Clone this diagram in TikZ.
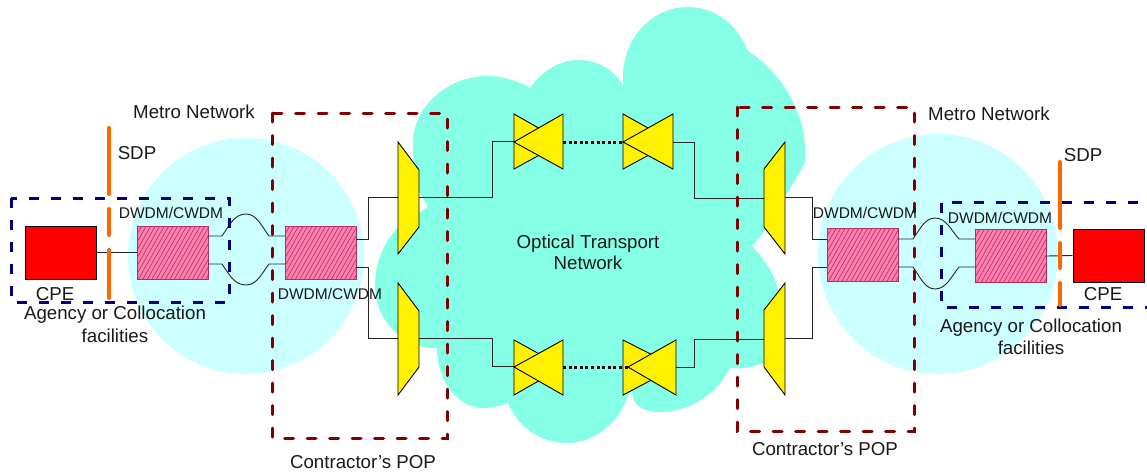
\documentclass[tikz,border=0pt]{standalone}
\usepackage{fontspec}
\setmainfont{Liberation Sans}
\definecolor{cloudc}{HTML}{85FFE5}
\definecolor{metroc}{HTML}{CCFFFF}
\definecolor{darkred}{HTML}{800000}
\definecolor{navyc}{HTML}{000080}
\definecolor{orangec}{HTML}{FF6600}
\definecolor{pinkc}{HTML}{FF80AE}
\definecolor{hatchc}{HTML}{B03060}
\tikzset{
  lab/.style={font=\fontsize{18.7}{20}\selectfont,text=black!90,inner sep=0pt,align=center},
  dwdm/.style={font=\fontsize{15.5}{17}\selectfont,text=black!90,inner sep=0pt},
  pop/.style={draw=darkred,line cap=round,dash pattern=on 9pt off 13.5pt,line width=3pt},
  site/.style={draw=navyc,dash pattern=on 10pt off 12pt,line width=3pt},
  sdp/.style={draw=orangec,line width=4pt,line cap=round},
  wire/.style={draw=black!85,line width=0.9pt},
  cpe/.style={draw=black,fill=red,line width=0.9pt,minimum width=71pt,minimum height=53pt,inner sep=0pt},
  mux/.style={draw=black,fill=yellow,line width=0.9pt,line join=miter},
  trunk/.style={draw=black,dash pattern=on 3pt off 2.6pt,line width=3pt},
  wdm/.style={draw=hatchc,fill=pinkc,line width=0.9pt,minimum width=71pt,minimum height=53pt,inner sep=0pt,
    path picture={\foreach \i in {-30,-25.5,...,75}
      \draw[hatchc,line width=0.6pt] ([xshift=\i pt]path picture bounding box.south west) -- ++(32pt,56pt);}},
}
\begin{document}
\begin{tikzpicture}[x=1pt,y=-1pt]
\useasboundingbox (0,0) rectangle (1147,472);
% metro networks
\fill[metroc] (246,256) circle[radius=118];
\fill[metroc] (938,254) circle[radius=120];
% optical transport cloud
\fill[cloudc] (428,207) -- (420,193) .. controls (414,178) and (413,160) .. (413,143)
 .. controls (413,105) and (450,76) .. (487,76) .. controls (503,76) and (518,81) .. (530,88)
 .. controls (542,71) and (560,60) .. (578,60) .. controls (598,60) and (614,70) .. (623,85)
 -- (623,77) .. controls (623,38) and (652,7) .. (688,7) .. controls (715,7) and (738,25) .. (748,51)
 .. controls (780,72) and (805,110) .. (805,150) -- (805,163) -- (785,197) -- (767,228) -- (752,246)
 .. controls (765,260) and (775,275) .. (778,290) .. controls (787,310) and (790,355) .. (763,363)
 .. controls (752,368) and (740,369) .. (730,368)
 .. controls (718,393) and (690,412) .. (660,412) .. controls (643,412) and (632,405) .. (632,392)
 -- (628,395) .. controls (620,422) and (595,443) .. (567,443) .. controls (540,443) and (518,427) .. (508,403)
 .. controls (500,406) and (492,408) .. (483,408) .. controls (457,408) and (437,380) .. (437,348)
 .. controls (415,350) and (375,330) .. (375,285) .. controls (375,262) and (385,238) .. (403,223) -- cycle;
% equipment boxes
\node[cpe] (cpeL) at (60.5,252.5) {};
\node[wdm] (wdmA) at (172.5,252.5) {};
\node[wdm] (wdmB) at (320.5,252.5) {};
\node[wdm] (wdmC) at (862.5,254.5) {};
\node[wdm] (wdmD) at (1010.5,256) {};
\node[cpe] (cpeR) at (1108.5,255.5) {};
% ports
\coordinate (aU) at (208,236); \coordinate (aD) at (208,264);
\coordinate (bU) at (285,236); \coordinate (bD) at (285,264);
\coordinate (bE1) at (356,239); \coordinate (bE2) at (356,267);
\coordinate (cW1) at (827,239); \coordinate (cW2) at (827,267);
\coordinate (cU) at (898,239); \coordinate (cD) at (898,267);
\coordinate (dU) at (975,239); \coordinate (dD) at (975,267);
\coordinate (m1w) at (398,197); \coordinate (m1e) at (419,197);
\coordinate (m2w) at (398,338); \coordinate (m2e) at (419,338);
\coordinate (m3w) at (764,198); \coordinate (m3e) at (785,197);
\coordinate (m4w) at (764,339); \coordinate (m4e) at (785,338);
\coordinate (t1w) at (514,141); \coordinate (t1e) at (563,142);
\coordinate (t2w) at (623,142); \coordinate (t2e) at (673,142);
\coordinate (t3w) at (514,366); \coordinate (t3e) at (563,367);
\coordinate (t4w) at (628,367); \coordinate (t4e) at (673,367);
% connectors
\draw[wire] (cpeL.east) -- (wdmA.west);
\draw[wire] (wdmD.east) -- (cpeR.west);
\draw[wire] (aU) -- (222,236) .. controls (229,226) and (234,214) .. (246,214) .. controls (257,214) and (262,227) .. (269,236) -- (bU);
\draw[wire] (aD) -- (222,264) .. controls (229,274) and (234,285) .. (246,285) .. controls (257,285) and (262,273) .. (269,264) -- (bD);
\draw[wire] (cU) -- (913,239) .. controls (920,229) and (925,218) .. (935,218) .. controls (946,218) and (951,230) .. (959,239) -- (dU);
\draw[wire] (cD) -- (913,267) .. controls (920,277) and (925,289) .. (935,289) .. controls (946,289) and (951,277) .. (959,267) -- (dD);
\draw[wire] (bE1) -- (368.5,239) -- (368.5,197) -- (m1w);
\draw[wire] (bE2) -- (368.5,267) -- (368.5,338) -- (m2w);
\draw[wire] (m1e) -- (492,197) -- (492,141) -- (t1w);
\draw[wire] (m2e) -- (492,338) -- (492,366) -- (t3w);
\draw[wire] (t2e) -- (694,142) -- (694,198) -- (m3w);
\draw[wire] (t4e) -- (694,367) -- (694,339) -- (m4w);
\draw[wire] (m3e) -- (812,197) -- (812,239) -- (cW1);
\draw[wire] (m4e) -- (812,338) -- (812,267) -- (cW2);
% multiplexers
\draw[mux] (398,142) -- (419,170) -- (419,227) -- (398,254) -- cycle;
\draw[mux] (398,283) -- (419,311) -- (419,367) -- (398,395) -- cycle;
\draw[mux] (785,142) -- (764,169) -- (764,227) -- (785,254) -- cycle;
\draw[mux] (785,283) -- (764,310) -- (764,367) -- (785,395) -- cycle;
% amplifiers
\draw[mux] (514,114) -- (563,142) -- (514,169) -- cycle;
\draw[mux] (563,114) -- (514,142) -- (563,169) -- cycle;
\draw[mux] (623,114) -- (673,142) -- (623,169) -- cycle;
\draw[mux] (673,114) -- (623,142) -- (673,169) -- cycle;
\draw[mux] (514,340) -- (563,367) -- (514,395) -- cycle;
\draw[mux] (563,340) -- (514,367) -- (563,395) -- cycle;
\draw[mux] (623,340) -- (676,367) -- (623,395) -- cycle;
\draw[mux] (676,340) -- (628,367) -- (676,395) -- cycle;
\draw[trunk] (t1e) -- (t2w);
\draw[trunk] (t3e) -- (t4w);
% boundaries
\draw[site] (11,198) rectangle (229,302);
\draw[site] (1160,202) -- (941,202) -- (941,307) -- (1160,307);
\draw[sdp] (109,128) -- (109,194);
\draw[sdp] (109,209) -- (109,235);
\draw[sdp] (109,250) -- (109,298);
\draw[sdp] (1060,162) -- (1060,228);
\draw[sdp] (1060,243) -- (1060,268);
\draw[sdp] (1060,283) -- (1060,305);
\draw[pop] (272,113) rectangle (447,438);
\draw[pop] (737,107) rectangle (914,431);
% labels
\node[lab] (metroL) at (194,112) {Metro Network};
\node[lab] (metroR) at (989,114) {Metro Network};
\node[lab] (sdpL) at (137,153) {SDP};
\node[lab] (sdpR) at (1083,155) {SDP};
\node[dwdm] (d1) at (171,213) {DWDM/CWDM};
\node[dwdm] (d2) at (330,294) {DWDM/CWDM};
\node[dwdm] (d3) at (865,213) {DWDM/CWDM};
\node[dwdm] (d4) at (1000,218) {DWDM/CWDM};
\node[lab] (cpeTL) at (55,294) {CPE};
\node[lab] (cpeTR) at (1103,294) {CPE};
\node[lab] (agL) at (115,324.5) {Agency or Collocation\\[2.5pt]facilities};
\node[lab] (agR) at (1031,337) {Agency or Collocation\\[2.5pt]facilities};
\node[lab] (otn) at (588,252.5) {Optical Transport\\[1pt]Network};
\node[lab] (popL) at (363,462) {Contractor’s POP};
\node[lab] (popR) at (825,449) {Contractor’s POP};
\end{tikzpicture}
\end{document}
